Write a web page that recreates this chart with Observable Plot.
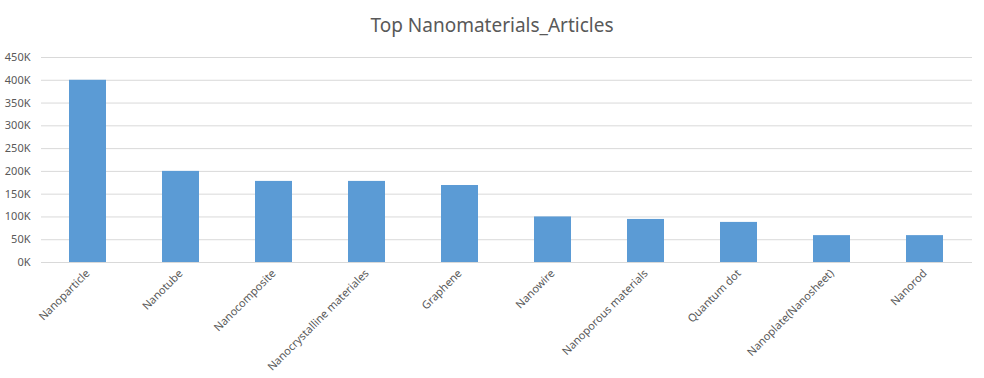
<!DOCTYPE html>
<html>
<head>
<meta charset="utf-8">
<script src="https://cdn.jsdelivr.net/npm/d3@7"></script>
<script src="https://cdn.jsdelivr.net/npm/@observablehq/plot@0.6"></script>
<style>
  html, body { margin: 0; padding: 0; background: #fff; }
  body { width: 984px; height: 378px; overflow: hidden; font-family: "Noto Sans", "Open Sans", sans-serif; }
  #title { height: 45px; line-height: 50px; text-align: center; font-size: 19px; color: #595959; }
</style>
</head>
<body>
<div id="title">Top Nanomaterials_Articles</div>
<div id="chart"></div>
<script>
const categories = ["Nanoparticle", "Nanotube", "Nanocomposite", "Nanocrystalline materiales", "Graphene", "Nanowire", "Nanoporous materials", "Quantum dot", "Nanoplate(Nanosheet)", "Nanorod"];
const articles = [400000, 200000, 178000, 178000, 169000, 100000, 94500, 88000, 59000, 59000];
const yTicks = [0, 50000, 100000, 150000, 200000, 250000, 300000, 350000, 400000, 450000];

const data = categories.map((c, i) => ({category: c, value: articles[i]}));

const chart = Plot.plot({
  width: 984,
  height: 333,
  marginTop: 12,
  marginBottom: 116,
  marginLeft: 41,
  marginRight: 12,
  style: {fontFamily: "'Noto Sans', 'Open Sans', sans-serif", fontSize: "11px", color: "#595959", background: "#fff"},
  x: {domain: categories, paddingInner: 0.6, paddingOuter: 0.3, label: null, tickSize: 0, tickRotate: -45, tickPadding: 9},
  y: {domain: [0, 450000], ticks: yTicks, tickFormat: d => d / 1000 + "K", label: null, tickSize: 0, tickPadding: 11},
  marks: [
    Plot.gridY(yTicks, {stroke: "#d9d9d9", strokeOpacity: 1, strokeWidth: 1}),
    Plot.barY(data, {x: "category", y: "value", fill: "#5b9bd5"})
  ]
});
document.getElementById("chart").appendChild(chart);
</script>
</body>
</html>
